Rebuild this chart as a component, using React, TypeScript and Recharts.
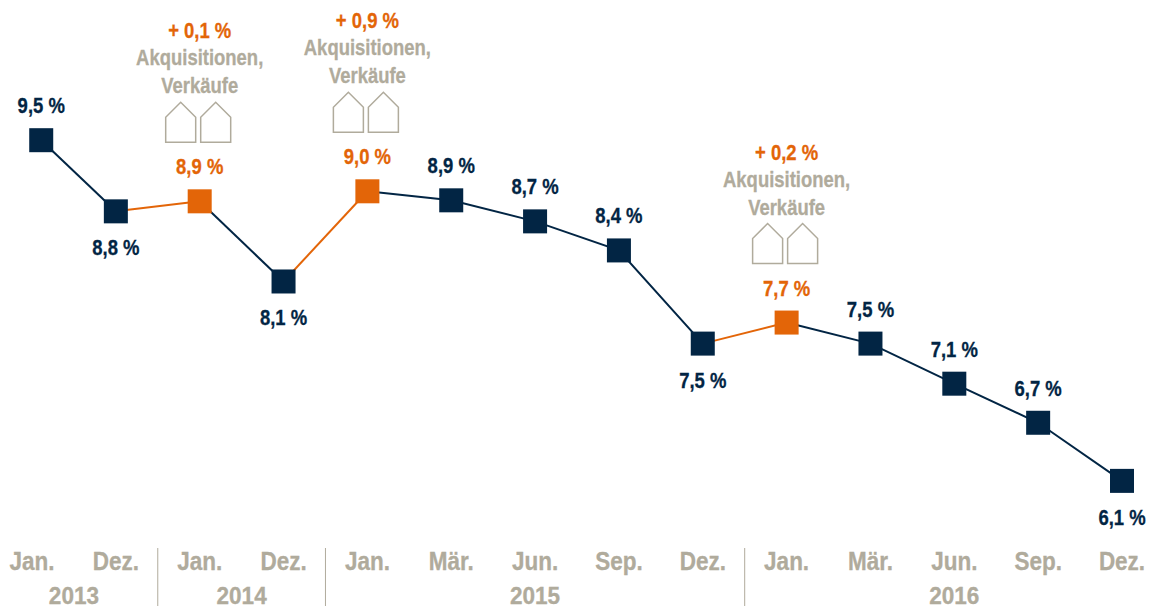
import { Line, LineChart, ReferenceLine, XAxis, YAxis } from 'recharts';

const months = ['Jan.', 'Dez.', 'Jan.', 'Dez.', 'Jan.', 'Mär.', 'Jun.', 'Sep.', 'Dez.', 'Jan.', 'Mär.', 'Jun.', 'Sep.', 'Dez.'];
const slots = [0.11, 1, 2, 3, 4, 5, 6, 7, 8, 9, 10, 11, 12, 13];
const rates = [9.5, 8.79, 8.89, 8.09, 8.99, 8.9, 8.69, 8.4, 7.47, 7.68, 7.47, 7.07, 6.68, 6.1];
const belowPoints = [1, 3, 8, 13];
const acquisitionPoints = [2, 4, 9];
const acquisitionDeltas = ['+ 0,1 %', '+ 0,9 %', '+ 0,2 %'];
const navySegments = [[0, 1], [2, 3], [4, 8], [9, 13]];
const orangeSegments = [[1, 2], [3, 4], [8, 9]];
const years = ['2013', '2014', '2015', '2016'];
const yearSlots = [0.5, 2.5, 6, 11];
const separators = [1.5, 3.5, 8.5];

const NAVY = '#022544';
const ORANGE = '#E36508';
const GREY = '#B0AB9C';
const FONT = '"Liberation Sans", Arial, sans-serif';

const inSegment = (seg: number[], i: number) => i >= seg[0] && i <= seg[1];

const data = slots.map((slot, i) => {
  const row: Record<string, number | null> = { slot, rate: rates[i] };
  navySegments.forEach((seg, s) => {
    row[`navy${s}`] = inSegment(seg, i) ? rates[i] : null;
  });
  orangeSegments.forEach((seg, s) => {
    row[`orange${s}`] = inSegment(seg, i) ? rates[i] : null;
  });
  return row;
});

const fmt = (v: number) => `${v.toFixed(1).replace('.', ',')} %`;

// the original face is a condensed bold, so squeeze Liberation Sans sideways
const Squeezed = ({ x, y, fill, size = 22, squeeze = 0.84, children }: any) => (
  <text
    transform={`translate(${x} ${y}) scale(${squeeze} 1)`}
    textAnchor="middle"
    fill={fill}
    stroke={fill}
    strokeWidth={0.3}
    style={{ fontFamily: FONT, fontWeight: 700, fontSize: size }}
  >
    {children}
  </text>
);

const House = ({ x, y }: { x: number; y: number }) => (
  <path
    d={`M${x} ${y + 40}V${y + 15}L${x + 15} ${y}L${x + 30} ${y + 15}V${y + 40}Z`}
    fill="none"
    stroke={GREY}
    strokeWidth={1.5}
  />
);

const Marker = (props: any) => {
  const { cx, cy, index } = props;
  const color = acquisitionPoints.includes(index) ? ORANGE : NAVY;
  return <rect key={index} x={cx - 12} y={cy - 12} width={24} height={24} fill={color} />;
};

const PointLabel = (props: any) => {
  const { x, y, index, value } = props;
  const a = acquisitionPoints.indexOf(index);
  const color = a >= 0 ? ORANGE : NAVY;
  const dy = belowPoints.includes(index) ? 44 : -27;
  return (
    <g key={index}>
      <Squeezed x={x} y={y + dy} fill={color}>{fmt(value)}</Squeezed>
      {a >= 0 && (
        <>
          <Squeezed x={x} y={y - 163} fill={ORANGE}>{acquisitionDeltas[a]}</Squeezed>
          <Squeezed x={x} y={y - 136} fill={GREY}>Akquisitionen,</Squeezed>
          <Squeezed x={x} y={y - 108} fill={GREY}>Verkäufe</Squeezed>
          <House x={x - 34} y={y - 99} />
          <House x={x + 1} y={y - 99} />
        </>
      )}
    </g>
  );
};

const MonthTick = (props: any) => {
  const { x, y, payload } = props;
  return (
    <Squeezed x={x} y={y + 23} fill={GREY} size={25} squeeze={0.9}>
      {months[payload.value]}
    </Squeezed>
  );
};

const YearTick = (props: any) => {
  const { x, y, payload } = props;
  return (
    <Squeezed x={x} y={y + 20} fill={GREY} size={23} squeeze={0.98}>
      {years[yearSlots.indexOf(payload.value)]}
    </Squeezed>
  );
};

const Separator = (props: any) => {
  const { x1 } = props.x1 !== undefined ? props : { x1: 0 };
  return <line x1={x1} x2={x1} y1={548} y2={606} stroke={GREY} strokeWidth={1} />;
};

export default function App() {
  return (
    <div style={{ position: 'absolute', left: 0, top: 0, width: 1151, height: 608, background: '#fff' }}>
      <LineChart width={1151} height={608} data={data} margin={{ top: 40, right: 29, bottom: 0, left: 32 }}>
        <XAxis
          xAxisId="month"
          dataKey="slot"
          type="number"
          domain={[0, 13]}
          ticks={[0, 1, 2, 3, 4, 5, 6, 7, 8, 9, 10, 11, 12, 13]}
          interval={0}
          height={35}
          axisLine={false}
          tickLine={false}
          tickMargin={0}
          tick={<MonthTick />}
        />
        <XAxis
          xAxisId="year"
          dataKey="slot"
          type="number"
          domain={[0, 13]}
          ticks={yearSlots}
          interval={0}
          height={32}
          axisLine={false}
          tickLine={false}
          tick={<YearTick />}
        />
        <YAxis hide domain={[5.5, 10.5]} />
        {separators.map((s) => (
          <ReferenceLine key={s} xAxisId="month" x={s} shape={<Separator />} />
        ))}
        {navySegments.map((_, s) => (
          <Line
            key={s}
            xAxisId="month"
            dataKey={`navy${s}`}
            stroke={NAVY}
            strokeWidth={2}
            dot={false}
            isAnimationActive={false}
          />
        ))}
        {orangeSegments.map((_, s) => (
          <Line
            key={s}
            xAxisId="month"
            dataKey={`orange${s}`}
            stroke={ORANGE}
            strokeWidth={2}
            dot={false}
            isAnimationActive={false}
          />
        ))}
        <Line
          xAxisId="month"
          dataKey="rate"
          stroke="none"
          dot={<Marker />}
          label={<PointLabel />}
          isAnimationActive={false}
        />
      </LineChart>
    </div>
  );
}
